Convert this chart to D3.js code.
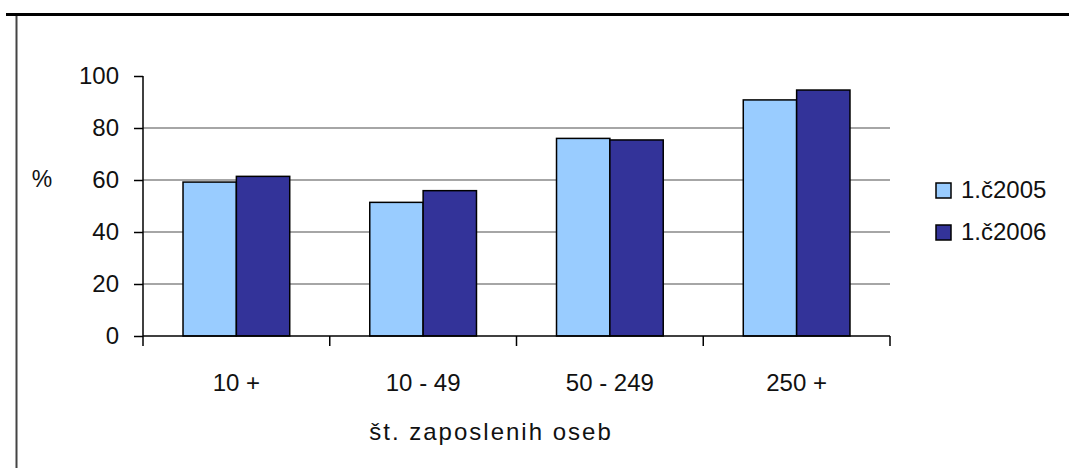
<!DOCTYPE html>
<html>
<head>
<meta charset="utf-8">
<script src="https://cdn.jsdelivr.net/npm/d3@7"></script>
<style>
  body { margin: 0; background: #fff; }
  svg { display: block; font-family: "Liberation Sans", Arial, sans-serif; }
</style>
</head>
<body>
<svg width="1069" height="468"></svg>
<script>
const categories = ["10 +", "10 - 49", "50 - 249", "250 +"];
const seriesNames = ["1.č2005", "1.č2006"];
const values2005 = [59.2, 51.4, 76, 90.8];
const values2006 = [61.4, 55.9, 75.4, 94.6];
const yTicks = [0, 20, 40, 60, 80, 100];
const colors = ["#99ccff", "#333399"];

const svg = d3.select("svg");
const plotLeft = 143, plotRight = 890, plotTop = 76, plotBottom = 336;

// frame lines
svg.append("rect").attr("x", 6).attr("y", 13).attr("width", 1063).attr("height", 3).attr("fill", "#000");
svg.append("rect").attr("x", 15.5).attr("y", 16).attr("width", 2).attr("height", 452).attr("fill", "#444");

let x = d3.scaleBand().domain(categories).range([plotLeft, plotRight]).paddingInner(0).paddingOuter(0);
let y = d3.scaleLinear().domain([0, 100]).range([plotBottom, plotTop]);

// gap width 75% like excel
const groupW = x.bandwidth() / 1.75;
let xs = d3.scaleBand().domain(seriesNames).range([0, groupW]);

// grid
svg.append("g")
    .selectAll("line")
    .data(yTicks.filter(d => d > 0 && d < 100))
    .enter()
    .append("line")
    .attr("x1", plotLeft).attr("x2", plotRight)
    .attr("y1", d => y(d)).attr("y2", d => y(d))
    .attr("stroke", "#a6a6a6")
    .attr("stroke-width", 2);

// bars
const rows = categories.map((c, i) => ({ cat: c, vals: [values2005[i], values2006[i]] }));
let grp = svg.selectAll(".grp")
    .data(rows)
    .enter()
    .append("g")
    .attr("class", "grp")
    .attr("transform", d => "translate(" + (x(d.cat) + (x.bandwidth() - groupW) / 2) + ",0)");
grp.selectAll("rect")
    .data(d => d.vals.map((v, j) => ({ name: seriesNames[j], v: v, j: j })))
    .enter()
    .append("rect")
    .attr("x", d => xs(d.name))
    .attr("y", d => y(d.v))
    .attr("width", xs.bandwidth())
    .attr("height", d => plotBottom - y(d.v))
    .attr("fill", d => colors[d.j])
    .attr("stroke", "#000")
    .attr("stroke-width", 1.5);

// y axis
const yAxis = d3.axisLeft(y).tickValues(yTicks).tickSize(9).tickPadding(15);
const gy = svg.append("g").attr("transform", "translate(" + plotLeft + ",0)").call(yAxis);
gy.select(".domain").attr("stroke", "#000").attr("stroke-width", 1.5).attr("d", "M0," + plotTop + "V" + plotBottom);
gy.selectAll(".tick line").attr("stroke", "#000").attr("stroke-width", 1.5);
gy.selectAll("text").attr("font-size", "24px").attr("fill", "#111").attr("font-family", "Liberation Sans, Arial, sans-serif");

// x axis
const xAxis = d3.axisBottom(x).tickSize(0).tickPadding(38);
const gx = svg.append("g").attr("transform", "translate(0," + plotBottom + ")").call(xAxis);
gx.select(".domain").attr("stroke", "#000").attr("stroke-width", 1.5).attr("d", "M" + plotLeft + ",0H" + plotRight);
gx.selectAll("text").attr("font-size", "24px").attr("fill", "#111").attr("font-family", "Liberation Sans, Arial, sans-serif");
// boundary ticks between categories
const bounds = categories.map(c => x(c)).concat([plotRight]);
gx.selectAll(".btick")
    .data(bounds)
    .enter()
    .append("line")
    .attr("x1", d => d).attr("x2", d => d)
    .attr("y1", 0).attr("y2", 10)
    .attr("stroke", "#000")
    .attr("stroke-width", 1.5);

// axis titles
svg.append("text")
    .attr("x", 491).attr("y", 440)
    .attr("text-anchor", "middle")
    .attr("font-size", "24px")
    .attr("letter-spacing", "2px")
    .attr("fill", "#111")
    .text("št. zaposlenih oseb");
svg.append("text")
    .attr("x", 42).attr("y", 187)
    .attr("text-anchor", "middle")
    .attr("font-size", "23px")
    .attr("fill", "#111")
    .text("%");

// legend
let legend = svg.selectAll(".leg")
    .data(seriesNames)
    .enter()
    .append("g")
    .attr("class", "leg")
    .attr("transform", (d, i) => "translate(936," + (183 + i * 42) + ")");
legend.append("rect")
    .attr("width", 15).attr("height", 15)
    .attr("fill", (d, i) => colors[i])
    .attr("stroke", "#000")
    .attr("stroke-width", 1.5);
legend.append("text")
    .attr("x", 25).attr("y", 15)
    .attr("font-size", "24px")
    .attr("fill", "#111")
    .text(d => d);
</script>
</body>
</html>
